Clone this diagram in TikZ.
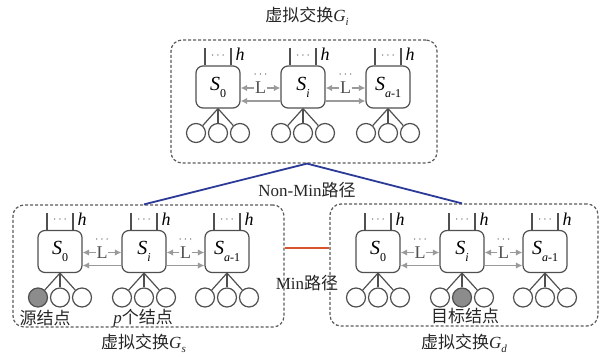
\documentclass[tikz,border=0pt]{standalone}
\usepackage{fontspec}
\setmainfont{Liberation Serif}
\newfontfamily\cjk{Noto Sans CJK SC}
\usetikzlibrary{arrows.meta,calc}

\definecolor{linec}{HTML}{505050}
\definecolor{dashc}{HTML}{5A5A5A}
\definecolor{arrc}{HTML}{9A9A9A}
\definecolor{hostfill}{HTML}{8C8C8C}
\definecolor{nonmin}{HTML}{2B3A96}
\definecolor{minc}{HTML}{D9542C}

\tikzset{
  swbox/.style={draw=linec, line width=1.2pt, rounded corners=7pt,
    minimum width=44pt, minimum height=42pt, inner sep=0pt,
    font=\fontsize{20}{20}\selectfont},
  host/.style={circle, draw=linec, line width=1.2pt, minimum size=19pt, inner sep=0pt},
  srchost/.style={host, fill=hostfill},
  wire/.style={draw=linec, line width=1.2pt},
  grp/.style={draw=dashc, line width=1.2pt, dash pattern=on 3pt off 2pt,
    rounded corners=11pt, inner sep=0pt},
  larr/.style={draw=arrc, line width=1.8pt, -{Latex[length=6.5pt,width=6.5pt]}},
  ltext/.style={font=\fontsize{18}{18}\selectfont, inner sep=0.5pt, text=linec},
  dots/.style={font=\fontsize{13}{13}\selectfont, inner sep=0pt, text=linec},
  hlab/.style={font=\fontsize{18}{18}\selectfont\itshape, inner sep=0pt},
  cjklab/.style={font=\fontsize{17}{17}\selectfont, inner sep=0pt, text=black!85},
  title/.style={font=\fontsize{17}{17}\selectfont, inner sep=0pt, text=black!85},
}

% S with a lowered subscript
\newcommand\swname[1]{\textit{S}\raisebox{-0.35em}{\fontsize{12}{12}\selectfont #1}}
% G with a lowered subscript, after CJK text
\newcommand\gname[1]{{\rmfamily\textit{G}\raisebox{-0.25em}{\fontsize{11}{11}\selectfont\textit{#1}}}}

% one switch: name, x, y, label, styles of its three hosts
\newcommand\switchunit[7]{%
  \node[swbox] (#1) at (#2,#3) {#4};
  \draw[wire] ($(#1.north)+(-13,0)$) -- ++(0,-17);
  \draw[wire] ($(#1.north)+(13,0)$) -- ++(0,-17);
  \node[dots] at ($(#1.north)+(0,-10)$) {$\cdots$};
  \node[hlab] at ($(#1.north)+(22,-11)$) {h};
  \node[#5] (#1-h1) at ($(#1.center)+(-22,46)$) {};
  \node[#6] (#1-h2) at ($(#1.center)+(0,46)$) {};
  \node[#7] (#1-h3) at ($(#1.center)+(22,46)$) {};
  \draw[wire] (#1.south) -- (#1-h1);
  \draw[wire] (#1.south) -- (#1-h2);
  \draw[wire] (#1.south) -- (#1-h3);
}

% L links between two neighbouring switches; #3 = direction of the long arrow
\newcommand\llinks[3]{%
  \node[ltext] (#1#2L) at ($(#1.east)!0.5!(#2.west)+(0,1)$) {L};
  \node[dots] at ($(#1#2L)+(0,-13)$) {$\cdots$};
  \draw[larr] (#1#2L.west) -- (#1.east |- #1#2L);
  \draw[larr] (#1#2L.east) -- (#2.west |- #1#2L);
  \coordinate (#1#2lo) at ($(#1#2L)+(0,13)$);
  \ifnum#3=0
    \draw[larr] (#2.west |- #1#2lo) -- (#1.east |- #1#2lo);
  \else
    \draw[larr] (#1.east |- #1#2lo) -- (#2.west |- #1#2lo);
  \fi
}

\begin{document}
\begin{tikzpicture}[x=1pt, y=-1pt]
  \useasboundingbox (0,0) rectangle (601,356);

  % virtual switch groups
  \node[grp, minimum width=266pt, minimum height=123pt] (gI) at (304,101.5) {};
  \node[grp, minimum width=271pt, minimum height=122pt] (gS) at (148.5,266) {};
  \node[grp, minimum width=268pt, minimum height=122pt] (gD) at (464,265) {};

  % intermediate group
  \switchunit{i0}{218}{87}{\swname{0}}{host}{host}{host}
  \switchunit{ii}{303}{87}{\swname{\textit{i}}}{host}{host}{host}
  \switchunit{ia}{388}{87}{\swname{\textit{a}-1}}{host}{host}{host}
  \llinks{i0}{ii}{0}
  \llinks{ii}{ia}{1}

  % source group
  \switchunit{s0}{60}{251.5}{\swname{0}}{srchost}{host}{host}
  \switchunit{si}{144}{251.5}{\swname{\textit{i}}}{host}{host}{host}
  \switchunit{sa}{227}{251.5}{\swname{\textit{a}-1}}{host}{host}{host}
  \llinks{s0}{si}{0}
  \llinks{si}{sa}{1}

  % destination group
  \switchunit{d0}{378}{251.5}{\swname{0}}{host}{host}{host}
  \switchunit{di}{462}{251.5}{\swname{\textit{i}}}{host}{srchost}{host}
  \switchunit{da}{545}{251.5}{\swname{\textit{a}-1}}{host}{host}{host}
  \llinks{d0}{di}{0}
  \llinks{di}{da}{1}

  % group titles
  \node[title] at ($(gI.north)+(3,-23)$) {\cjk 虚拟交换\gname{i}};
  \node[title] at ($(gS.south)+(-5,16)$) {\cjk 虚拟交换\gname{s}};
  \node[title] at ($(gD.south)+(0,17)$) {\cjk 虚拟交换\gname{d}};

  % host labels
  \node[cjklab] at ($(s0-h1)!0.5!(s0-h2)+(-4,21)$) {\cjk 源结点};
  \node[cjklab] at ($(si-h2)+(-1,21)$) {\textit{p}\cjk 个结点};
  \node[cjklab] at ($(di-h2)+(3,19)$) {\cjk 目标结点};

  % paths between groups
  \coordinate (apex) at ($(gI.south)+(3,0)$);
  \draw[nonmin, line width=1.8pt] (gS.north -| si) -- (apex) -- (gD.north -| di);
  \coordinate (minl) at ($(gS.east)+(0,-18)$);
  \draw[minc, line width=2.2pt] (minl) -- (gD.west |- minl);
  \node[title] at (307,190) {Non-Min{\cjk 路径}};
  \node[title] at (307,283) {Min{\cjk 路径}};
\end{tikzpicture}
\end{document}
